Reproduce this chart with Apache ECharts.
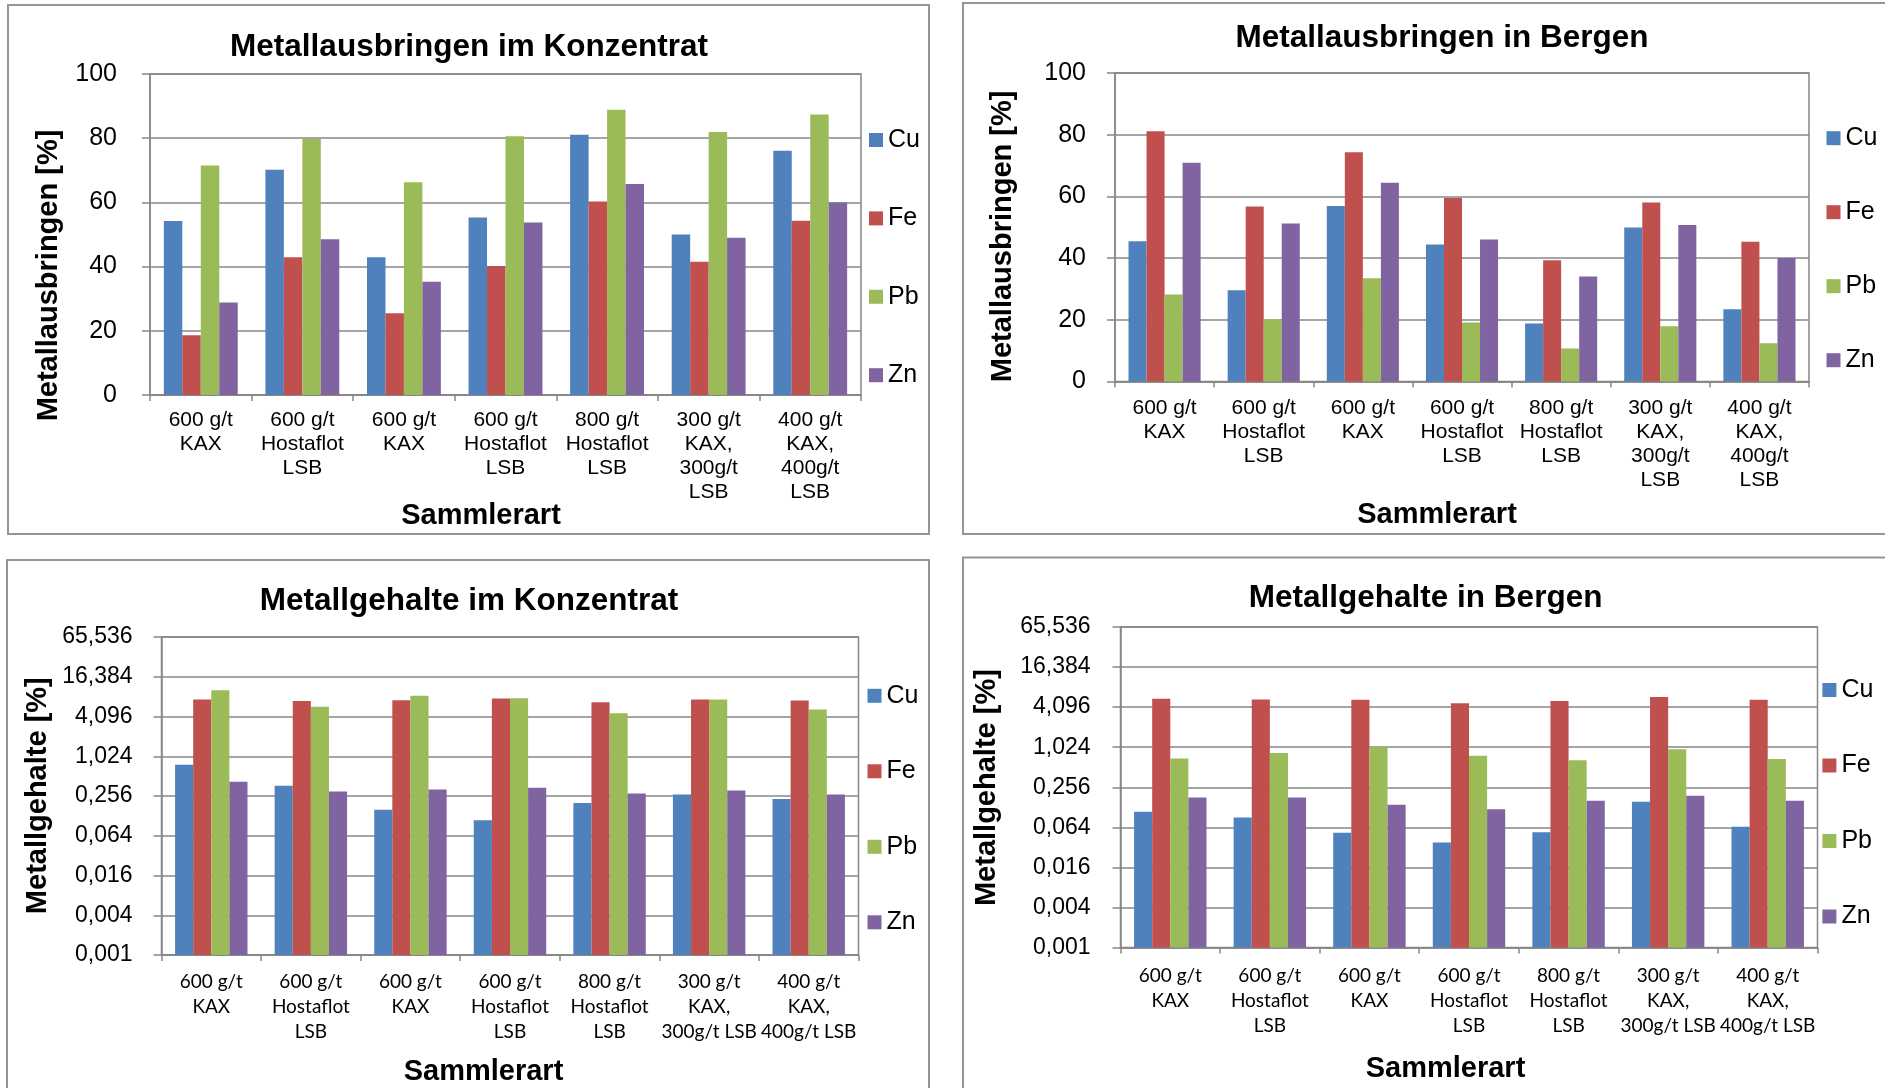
<!DOCTYPE html>
<html>
<head>
<meta charset="utf-8">
<title>Metallausbringen und Metallgehalte</title>
<script src="https://cdn.jsdelivr.net/npm/echarts@6/dist/echarts.min.js"></script>
<style>
  html, body { margin: 0; padding: 0; background: #fff; }
  #chart { width: 1885px; height: 1088px; }
</style>
</head>
<body>
<div id="chart"></div>
<script>
// Sammlerart (collector type) per test, wrapped for the axis labels
const categoriesTop = [
  '600 g/t\nKAX', '600 g/t\nHostaflot\nLSB', '600 g/t\nKAX', '600 g/t\nHostaflot\nLSB',
  '800 g/t\nHostaflot\nLSB', '300 g/t\nKAX,\n300g/t\nLSB', '400 g/t\nKAX,\n400g/t\nLSB'
];
const categoriesBottom = [
  '600 g/t\nKAX', '600 g/t\nHostaflot\nLSB', '600 g/t\nKAX', '600 g/t\nHostaflot\nLSB',
  '800 g/t\nHostaflot\nLSB', '300 g/t\nKAX,\n300g/t LSB', '400 g/t\nKAX,\n400g/t LSB'
];
const metals = ['Cu', 'Fe', 'Pb', 'Zn'];
const metalColors = ['#4F81BD', '#C0504D', '#9BBB59', '#8064A2'];

// Metallausbringen im Konzentrat [%]
const konzAusbringenCu = [54.2, 70.2, 42.9, 55.3, 81.1, 50.0, 76.1];
const konzAusbringenFe = [18.6, 42.9, 25.5, 40.2, 60.3, 41.5, 54.3];
const konzAusbringenPb = [71.5, 79.8, 66.3, 80.6, 88.9, 81.9, 87.4];
const konzAusbringenZn = [28.8, 48.5, 35.3, 53.7, 65.7, 49.0, 60.0];

// Metallausbringen in Bergen [%]
const bergeAusbringenCu = [45.5, 29.6, 56.9, 44.4, 18.8, 49.9, 23.4];
const bergeAusbringenFe = [81.1, 56.7, 74.3, 59.5, 39.3, 58.0, 45.3];
const bergeAusbringenPb = [28.2, 20.1, 33.5, 19.1, 10.7, 17.9, 12.4];
const bergeAusbringenZn = [70.9, 51.2, 64.4, 46.0, 34.0, 50.7, 40.0];

// Metallgehalte im Konzentrat [%]
const konzGehaltCu = [0.76, 0.365, 0.158, 0.11, 0.20, 0.27, 0.23];
const konzGehaltFe = [7.4, 7.06, 7.23, 7.68, 6.73, 7.4, 7.14];
const konzGehaltPb = [10.2, 5.76, 8.45, 7.77, 4.58, 7.4, 5.23];
const konzGehaltZn = [0.42, 0.30, 0.32, 0.34, 0.28, 0.31, 0.27];

// Metallgehalte in Bergen [%]
const bergeGehaltCu = [0.11, 0.09, 0.053, 0.038, 0.054, 0.155, 0.065];
const bergeGehaltFe = [5.48, 5.35, 5.28, 4.70, 5.05, 5.82, 5.29];
const bergeGehaltPb = [0.69, 0.84, 1.04, 0.76, 0.65, 0.95, 0.68];
const bergeGehaltZn = [0.18, 0.18, 0.14, 0.12, 0.16, 0.19, 0.16];

// Linear axis ticks for the recovery charts
const recoveryMin = 0, recoveryMax = 100, recoveryStep = 20;
// Content axes are logarithmic (base 4) from 0,001 % to 65,536 %;
// values are handed to the log axis in thousandths of a percent so the
// base-4 ticks fall on 1, 4, 16 ... 65536 (= 0,001 ... 65,536 %)
const LOG_UNIT = 1000;
const contentMin = 0.001, contentMax = 65.536, contentBase = 4;

const panels = [
  { title: 'Metallausbringen im Konzentrat', yName: 'Metallausbringen [%]', log: false,
    values: [konzAusbringenCu, konzAusbringenFe, konzAusbringenPb, konzAusbringenZn], cats: categoriesTop },
  { title: 'Metallausbringen in Bergen', yName: 'Metallausbringen [%]', log: false,
    values: [bergeAusbringenCu, bergeAusbringenFe, bergeAusbringenPb, bergeAusbringenZn], cats: categoriesTop },
  { title: 'Metallgehalte im Konzentrat', yName: 'Metallgehalte [%]', log: true,
    values: [konzGehaltCu, konzGehaltFe, konzGehaltPb, konzGehaltZn], cats: categoriesBottom },
  { title: 'Metallgehalte in Bergen', yName: 'Metallgehalte [%]', log: true,
    values: [bergeGehaltCu, bergeGehaltFe, bergeGehaltPb, bergeGehaltZn], cats: categoriesBottom }
];

// Page layout of the four chart boxes
const layout = [
  { box: [8, 5, 921, 529], grid: { left: 150, top: 74, width: 711, height: 321 },
    title: [469, 47], xName: [481, 515.5], yNameAt: [49, 275.5],
    legend: { left: 869, top: 127.5, gap: 53.4 }, yMargin: 33, xMargin: 13,
    xFont: 'Liberation Sans', xSize: 21, xLine: 24, ySize: 25 },
  { box: [963, 3, 960, 531], grid: { left: 1115, top: 73, width: 694, height: 308.5 },
    title: [1442, 38.6], xName: [1437, 514.5], yNameAt: [1003, 236.4],
    legend: { left: 1826.5, top: 125.7, gap: 49 }, yMargin: 29, xMargin: 15,
    xFont: 'Liberation Sans', xSize: 21, xLine: 24, ySize: 25 },
  { box: [7, 560, 922, 560], grid: { left: 161.5, top: 637, width: 697, height: 318 },
    title: [469, 601], xName: [483.5, 1071.5], yNameAt: [37.5, 795.7],
    legend: { left: 867.5, top: 683.3, gap: 50.5 }, yMargin: 29, xMargin: 14,
    xFont: 'Lato', xSize: 19, xLine: 25, ySize: 23 },
  { box: [963, 557.5, 960, 560], grid: { left: 1120.5, top: 627, width: 697, height: 320.5 },
    title: [1425.6, 598.6], xName: [1445.5, 1068.5], yNameAt: [987, 787.6],
    legend: { left: 1822.4, top: 677.5, gap: 50.5 }, yMargin: 30, xMargin: 16,
    xFont: 'Lato', xSize: 19, xLine: 25, ySize: 23 }
];

const LINE = '#878787';
const FONT = 'Liberation Sans';

const grids = [], xAxes = [], yAxes = [], series = [], legends = [], graphics = [];

panels.forEach((p, i) => {
  const L = layout[i];
  grids.push(Object.assign({ show: true, borderColor: LINE, borderWidth: 1.5, backgroundColor: 'transparent' }, L.grid));

  xAxes.push({
    type: 'category', gridIndex: i, data: p.cats,
    axisLine: { show: true, lineStyle: { color: LINE, width: 1.5 } },
    axisTick: { show: true, length: 6, inside: false, lineStyle: { color: LINE, width: 1.5 } },
    axisLabel: { interval: 0, margin: L.xMargin, color: '#000', fontFamily: L.xFont,
                 fontSize: L.xSize, lineHeight: L.xLine, align: 'center' },
    splitLine: { show: false }
  });

  const yBase = {
    gridIndex: i,
    axisLine: { show: true, lineStyle: { color: LINE, width: 1.5 } },
    axisTick: { show: true, length: 8, lineStyle: { color: LINE, width: 1.5 } },
    splitLine: { show: true, lineStyle: { color: LINE, width: 1.5 } },
    axisLabel: { margin: L.yMargin, color: '#000', fontFamily: FONT, fontSize: L.ySize }
  };
  if (p.log) {
    yAxes.push(Object.assign(yBase, {
      type: 'log', logBase: contentBase,
      min: contentMin * LOG_UNIT, max: contentMax * LOG_UNIT, splitNumber: 8,
      axisLabel: Object.assign(yBase.axisLabel, {
        formatter: v => (v / LOG_UNIT).toFixed(3).replace('.', ',')
      })
    }));
  } else {
    yAxes.push(Object.assign(yBase, {
      type: 'value', min: recoveryMin, max: recoveryMax, interval: recoveryStep
    }));
  }

  metals.forEach((m, k) => {
    series.push({
      type: 'bar', name: m, xAxisIndex: i, yAxisIndex: i,
      data: p.log ? p.values[k].map(v => v * LOG_UNIT) : p.values[k],
      barGap: '0%', barCategoryGap: '27.27%',
      itemStyle: { color: metalColors[k] },
      emphasis: { disabled: true },
      animation: false
    });
  });

  legends.push({
    orient: 'vertical', left: L.legend.left, top: L.legend.top, padding: 0,
    itemGap: L.legend.gap, itemWidth: 14, itemHeight: 14, icon: 'rect',
    data: metals.map((m, k) => ({ name: m, itemStyle: { color: metalColors[k] } })),
    textStyle: { fontFamily: FONT, fontSize: 25, color: '#000', lineHeight: 25 },
    selectedMode: false
  });

  // box around each chart
  graphics.push({
    type: 'rect', z: -10, silent: true,
    shape: { x: L.box[0], y: L.box[1], width: L.box[2], height: L.box[3] },
    style: { fill: 'none', stroke: '#959595', lineWidth: 2 }
  });
  graphics.push({
    type: 'text', x: L.title[0], y: L.title[1], silent: true,
    style: { text: p.title, align: 'center', verticalAlign: 'middle',
             font: 'bold 31.5px "' + FONT + '"', fill: '#000' }
  });
  graphics.push({
    type: 'text', x: L.xName[0], y: L.xName[1], silent: true,
    style: { text: 'Sammlerart', align: 'center', verticalAlign: 'middle',
             font: 'bold 29px "' + FONT + '"', fill: '#000' }
  });
  graphics.push({
    type: 'text', x: L.yNameAt[0], y: L.yNameAt[1], rotation: Math.PI / 2, silent: true,
    style: { text: p.yName, align: 'center', verticalAlign: 'middle',
             font: 'bold 29px "' + FONT + '"', fill: '#000' }
  });
});

const chart = echarts.init(document.getElementById('chart'), null, { renderer: 'canvas' });
chart.setOption({
  animation: false,
  backgroundColor: '#fff',
  grid: grids,
  xAxis: xAxes,
  yAxis: yAxes,
  legend: legends,
  series: series,
  graphic: graphics
});
</script>
</body>
</html>
